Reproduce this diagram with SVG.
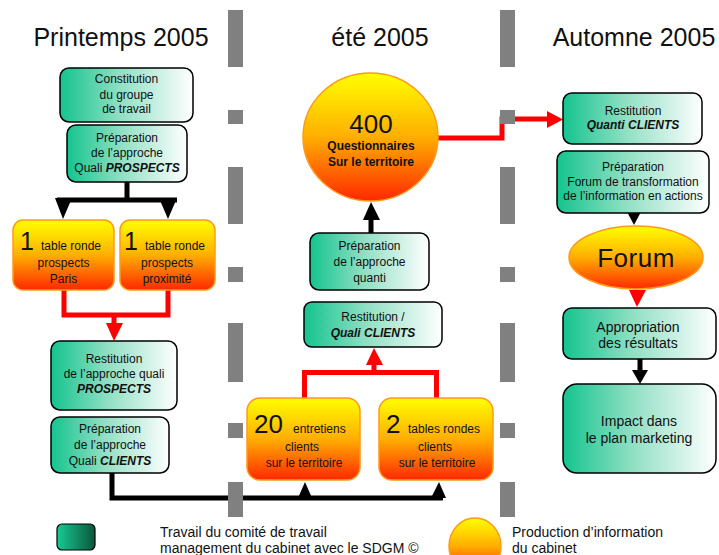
<svg xmlns="http://www.w3.org/2000/svg" width="719" height="555" viewBox="0 0 719 555">
<style>
text{font-family:"Liberation Sans",Arial,sans-serif;fill:#111;}
.title{font-size:25px;text-anchor:middle;}
.t{font-size:12px;text-anchor:middle;}
.tl{font-size:14px;text-anchor:middle;}
.lg{font-size:14px;}
.big{font-size:25px;}
.bi{font-weight:bold;font-style:italic;}
.b{font-weight:bold;}
.g{fill:url(#gGreen);stroke:#000;stroke-width:1.5;}
.o{fill:url(#gOrange);stroke:#ff9a1a;stroke-width:1.5;}
.blk{fill:none;stroke:#000;stroke-width:5;}
.red{fill:none;stroke:#ff0000;stroke-width:5;}
.ah{fill:#000;}
.rh{fill:#ff0000;}
.dash{fill:#808080;}
</style>
<defs>
<linearGradient id="gGreen" x1="0" y1="0" x2="1" y2="0">
<stop offset="0" stop-color="#14c48e"/>
<stop offset="0.45" stop-color="#8fdfc3"/>
<stop offset="1" stop-color="#ffffff"/>
</linearGradient>
<linearGradient id="gOrange" x1="0" y1="0" x2="0" y2="1">
<stop offset="0" stop-color="#ffff00"/>
<stop offset="0.5" stop-color="#ffae00"/>
<stop offset="1" stop-color="#ff2800"/>
</linearGradient>
<linearGradient id="gLegend" x1="0" y1="0" x2="1" y2="0">
<stop offset="0" stop-color="#18c995"/>
<stop offset="1" stop-color="#0a573b"/>
</linearGradient>
</defs>
<rect width="719" height="555" fill="#fff"/>

<g id="titles">
<text class="title" x="121" y="46">Printemps 2005</text>
<text class="title" x="380" y="46">été 2005</text>
<text class="title" x="634" y="46">Automne 2005</text>
</g>

<g id="connectors">
<!-- left top black fork -->
<path class="blk" d="M127 182 V200 M57 200 H177"/>
<polygon class="ah" points="55,198 72,198 63,219"/>
<polygon class="ah" points="159,198 177,198 168,219"/>
<!-- left red merge -->
<path class="red" d="M64 290 V315 H168 V290 M114 315 V324"/>
<polygon class="rh" points="106,323 123,323 114,341"/>
<!-- bottom black -->
<path class="blk" d="M112 473 V498 H443"/>
<polygon class="ah" points="298,498 312,498 305,482"/>
<polygon class="ah" points="431,498 446,498 439,482"/>
<!-- middle red merge -->
<path class="red" d="M304.5 398 V372.5 H436.5 V398 M374 372.5 V364"/>
<polygon class="rh" points="366,365 383,365 374,348"/>
<!-- black up to circle -->
<path class="blk" d="M371 233 V219"/>
<polygon class="ah" points="363,220 380,220 371,202"/>
<!-- red circle to restitution quanti -->
<path class="red" d="M436 138 H502 V119 H549"/>
<polygon class="rh" points="547,111 547,128 563,119.5"/>
<!-- right column -->
<polygon class="ah" points="625,208 643,208 634,225"/>
<polygon class="rh" points="629,290 646,290 637,307"/>
<path class="blk" d="M640 359 V371"/>
<polygon class="ah" points="632,370 648,370 640,384"/>
</g>

<g id="n-constitution">
<rect class="g" x="60" y="68" width="133" height="54" rx="9"/>
<text class="t" x="126.5" y="83">Constitution</text>
<text class="t" x="126.5" y="99">du groupe</text>
<text class="t" x="126.5" y="113">de travail</text>
</g>
<g id="n-prep-prospects">
<rect class="g" x="67" y="125" width="120" height="57" rx="9"/>
<text class="t" x="127" y="142">Préparation</text>
<text class="t" x="127" y="157">de l’approche</text>
<text class="t" x="127" y="172">Quali <tspan class="bi">PROSPECTS</tspan></text>
</g>
<g id="n-table-paris">
<rect class="o" x="13" y="220" width="101" height="70" rx="10"/>
<text class="big" x="20" y="250">1</text>
<text style="font-size:12px" x="41" y="250">table ronde</text>
<text class="t" x="63.5" y="267">prospects</text>
<text class="t" x="63.5" y="283">Paris</text>
</g>
<g id="n-table-proximite">
<rect class="o" x="120" y="220" width="95" height="70" rx="10"/>
<text class="big" x="124" y="250">1</text>
<text style="font-size:12px" x="145" y="250">table ronde</text>
<text class="t" x="167" y="267">prospects</text>
<text class="t" x="167" y="283">proximité</text>
</g>
<g id="n-restitution-prospects">
<rect class="g" x="51" y="341" width="126" height="69" rx="9"/>
<text class="t" x="114" y="363">Restitution</text>
<text class="t" x="114" y="378">de l’approche quali</text>
<text class="t bi" x="114" y="393">PROSPECTS</text>
</g>
<g id="n-prep-clients">
<rect class="g" x="51" y="417" width="118" height="56" rx="9"/>
<text class="t" x="110" y="433">Préparation</text>
<text class="t" x="110" y="449">de l’approche</text>
<text class="t" x="110" y="465">Quali <tspan class="bi">CLIENTS</tspan></text>
</g>

<g id="n-questionnaires">
<ellipse class="o" cx="370.5" cy="137" rx="67.5" ry="64"/>
<text class="big" x="371" y="133" text-anchor="middle" style="font-size:26px">400</text>
<text class="t b" x="371" y="150">Questionnaires</text>
<text class="t b" x="371" y="166">Sur le territoire</text>
</g>
<g id="n-prep-quanti">
<rect class="g" x="310" y="233" width="119" height="57" rx="9"/>
<text class="t" x="369.5" y="250">Préparation</text>
<text class="t" x="369.5" y="266">de l’approche</text>
<text class="t" x="369.5" y="282">quanti</text>
</g>
<g id="n-restitution-quali-clients">
<rect class="g" x="304" y="302" width="138" height="45" rx="8"/>
<text class="t" x="373" y="321">Restitution /</text>
<text class="t bi" x="373" y="337">Quali CLIENTS</text>
</g>
<g id="n-entretiens">
<rect class="o" x="247" y="398" width="113" height="82" rx="13"/>
<text class="big" x="254" y="433" style="font-size:26px">20</text>
<text style="font-size:12px" x="293" y="433">entretiens</text>
<text class="t" x="302" y="451">clients</text>
<text class="t" x="304" y="467">sur le territoire</text>
</g>
<g id="n-tables-clients">
<rect class="o" x="379" y="398" width="114" height="82" rx="13"/>
<text class="big" x="386" y="433" style="font-size:26px">2</text>
<text style="font-size:12px" x="408" y="433">tables rondes</text>
<text class="t" x="435" y="451">clients</text>
<text class="t" x="437" y="467">sur le territoire</text>
</g>

<g id="n-restitution-quanti">
<rect class="g" x="563" y="93" width="139" height="51" rx="9"/>
<text class="t" x="633" y="115">Restitution</text>
<text class="t bi" x="633" y="129">Quanti CLIENTS</text>
</g>
<g id="n-prep-forum">
<rect class="g" x="557" y="151" width="152" height="62" rx="9"/>
<text class="t" x="633" y="171">Préparation</text>
<text class="t" x="633" y="186">Forum de transformation</text>
<text class="t" x="633" y="200">de l’information en actions</text>
</g>
<g id="n-forum">
<ellipse class="o" cx="636" cy="257.5" rx="67" ry="31.5"/>
<text x="636" y="267" text-anchor="middle" style="font-size:26px;letter-spacing:0.5px">Forum</text>
</g>
<g id="n-appropriation">
<rect class="g" x="563" y="308" width="153" height="51" rx="9"/>
<text class="tl" x="638" y="332">Appropriation</text>
<text class="tl" x="638" y="348">des résultats</text>
</g>
<g id="n-impact">
<rect class="g" x="563" y="384" width="153" height="89" rx="14"/>
<text class="tl" x="639" y="426">Impact dans</text>
<text class="tl" x="639" y="443">le plan marketing</text>
</g>

<g id="dividers">
<rect class="dash" x="228" y="10" width="15" height="57"/>
<rect class="dash" x="228" y="110" width="15" height="14"/>
<rect class="dash" x="228" y="167" width="15" height="57"/>
<rect class="dash" x="228" y="267" width="15" height="15"/>
<rect class="dash" x="228" y="323" width="15" height="59"/>
<rect class="dash" x="228" y="423" width="15" height="15"/>
<rect class="dash" x="228" y="482" width="15" height="35"/>
<rect class="dash" x="500" y="10" width="15" height="57"/>
<rect class="dash" x="500" y="110" width="15" height="14"/>
<rect class="dash" x="500" y="167" width="15" height="57"/>
<rect class="dash" x="500" y="267" width="15" height="15"/>
<rect class="dash" x="500" y="323" width="15" height="59"/>
<rect class="dash" x="500" y="423" width="15" height="15"/>
<rect class="dash" x="500" y="482" width="15" height="35"/>
</g>

<g id="legend">
<rect x="57" y="524" width="38" height="26" rx="5" fill="url(#gLegend)" stroke="#000" stroke-width="1.2"/>
<text class="lg" x="160" y="537">Travail du comité de travail</text>
<text class="lg" x="160" y="553">management du cabinet avec le SDGM ©</text>
<ellipse class="o" cx="475" cy="546" rx="26" ry="28"/>
<text class="lg" x="512" y="537">Production d’information</text>
<text class="lg" x="512" y="553">du cabinet</text>
</g>
</svg>
